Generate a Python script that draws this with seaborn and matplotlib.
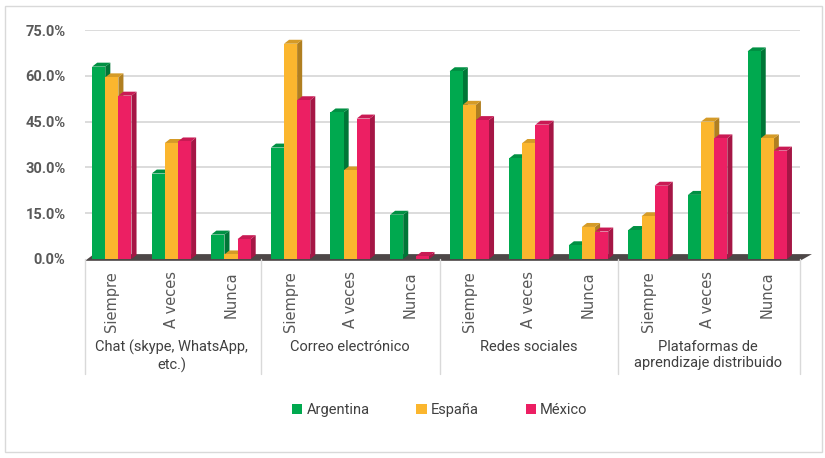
import matplotlib.pyplot as plt
import matplotlib.colors as mcolors
from matplotlib.patches import Polygon, Rectangle
from matplotlib.lines import Line2D
import seaborn as sns
import pandas as pd

grupos = ["Chat (skype, WhatsApp,\netc.)", "Correo electrónico", "Redes sociales",
          "Plataformas de\naprendizaje distribuido"]
frecuencias = ["Siempre", "A veces", "Nunca"]
paises = ["Argentina", "España", "México"]
colores = ["#00A94F", "#FBB62E", "#EC1F63"]

# valores (%) por grupo y frecuencia: Siempre, A veces, Nunca
argentina = [63, 28, 8, 36.5, 48, 14.5, 61.5, 33, 4.5, 9.5, 21, 68]
espana = [59.5, 38, 1.5, 70.5, 29, 0, 50.5, 38, 10.5, 14, 45, 39.5]
mexico = [53.5, 38.5, 6.5, 52, 46, 1, 45.5, 44, 9, 24, 39.5, 35.5]

filas = []
for i, g in enumerate(grupos):
    for j, f in enumerate(frecuencias):
        k = i * 3 + j
        for p, vals in zip(paises, [argentina, espana, mexico]):
            filas.append({"pos": f"{i}-{f}", "pais": p, "valor": vals[k]})
df = pd.DataFrame(filas)

sns.set_style("white")
plt.rcParams["font.family"] = ["DejaVu Sans"]

fig = plt.figure(figsize=(8.25, 4.58), dpi=100)
ax = fig.add_axes([85 / 825, 1 - 259 / 458, 715 / 825, 229 / 458])

sns.barplot(data=df, x="pos", y="valor", hue="pais", palette=colores,
            width=0.66, gap=0, saturation=1, linewidth=0, ax=ax, legend=False, zorder=3)

ax.set_ylim(0, 75)
ax.set_xlim(-0.45, 11.55)
ax.set_yticks([0, 15, 30, 45, 60, 75])
ax.set_yticklabels([f"{v:.1f}%" for v in [0, 15, 30, 45, 60, 75]],
                   fontsize=10.5, fontweight="bold", color="#595959", family="Roboto")
ax.tick_params(axis="y", length=0, pad=14)
for v in [15, 30, 45, 60, 75]:
    ax.axhline(v, color="#d9d9d9", lw=1.3, zorder=0)
for s in ax.spines.values():
    s.set_visible(False)

# efecto 3D en las barras
dx, dy = 0.085, 1.3
for bar in ax.patches:
    x, w, h = bar.get_x(), bar.get_width(), bar.get_height()
    if h <= 0:
        continue
    c = mcolors.to_rgb(bar.get_facecolor())
    lado = tuple(v * 0.7 for v in c)
    tapa = tuple(v * 0.85 for v in c)
    ax.add_patch(Polygon([(x + w, 0), (x + w + dx, dy), (x + w + dx, h + dy), (x + w, h)],
                         closed=True, fc=lado, ec="none", zorder=2.9, clip_on=False))
    ax.add_patch(Polygon([(x, h), (x + dx, h + dy), (x + w + dx, h + dy), (x + w, h)],
                         closed=True, fc=tapa, ec="none", zorder=2.9, clip_on=False))

# piso
ax.add_patch(Polygon([(-0.45, -0.6), (11.55, -0.6), (11.75, 1.6), (-0.3, 1.6)],
                     closed=True, fc="#4d4747", ec="none", zorder=1, clip_on=False))

ax.set_xlabel("")
ax.set_ylabel("")
ax.set_xticks(range(12))
ax.set_xticklabels(frecuencias * 4, rotation=90, fontsize=10.5, color="#595959")
ax.tick_params(axis="x", length=0, pad=9)

# separadores y etiquetas de grupo
for xs in [-0.45, 2.5, 5.5, 8.5, 11.55]:
    ax.add_line(Line2D([xs, xs], [0, -0.5], transform=ax.get_xaxis_transform(),
                       color="#d9d9d9", lw=1, clip_on=False))
for i, g in enumerate(grupos):
    ax.text(i * 3 + 1, -0.352, g, transform=ax.get_xaxis_transform(), ha="center", va="top",
            fontsize=10.5, color="#404040", family="Roboto", linespacing=1.25)

# leyenda
handles = [Rectangle((0, 0), 1, 1, fc=c, ec="none") for c in colores]
fig.legend(handles, paises, loc="center", bbox_to_anchor=(0.533, 1 - 410 / 458), ncol=3,
           frameon=False, handlelength=0.7, handleheight=0.7, columnspacing=3.2,
           handletextpad=0.3, prop={"family": "Roboto", "size": 10.5}, labelcolor="#404040")

fig.add_artist(Rectangle((5 / 825, 6 / 458), 817 / 825, 446 / 458, transform=fig.transFigure,
                         fc="none", ec="#d9d9d9", lw=1))

fig.savefig("out.png", dpi=100)
